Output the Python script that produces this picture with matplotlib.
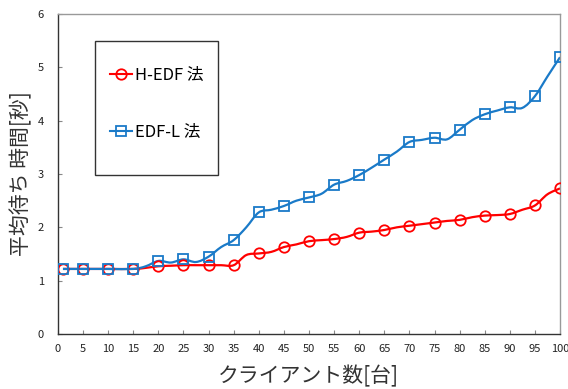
import matplotlib
matplotlib.use("Agg")
import matplotlib.pyplot as plt
from matplotlib.path import Path
from matplotlib.patches import PathPatch, Rectangle
from matplotlib.lines import Line2D
import numpy as np

plt.rcParams['font.family'] = ['Noto Sans CJK JP', 'DejaVu Sans']

# marker positions (clients)
x_mark = [1, 5, 10, 15, 20, 25, 30, 35, 40, 45, 50, 55, 60, 65, 70, 75, 80, 85, 90, 95, 100]
hedf_mark = [1.22, 1.22, 1.22, 1.22, 1.27, 1.29, 1.29, 1.29, 1.51, 1.63, 1.74, 1.78, 1.90, 1.95,
             2.03, 2.09, 2.14, 2.22, 2.25, 2.41, 2.73]
edfl_mark = [1.22, 1.22, 1.22, 1.22, 1.37, 1.40, 1.45, 1.76, 2.28, 2.40, 2.56, 2.80, 2.98, 3.27,
             3.60, 3.68, 3.83, 4.12, 4.25, 4.46, 5.19]

# in-between samples of the curves (no marker)
x_mid = [17.5, 22.5, 27.5, 32.5, 37.5, 42.5, 47.5, 52.5, 57.5, 62.5, 67.5, 72.5, 77.5, 82.5,
         87.5, 92.5, 97.5]
hedf_mid = [1.24, 1.28, 1.29, 1.29, 1.48, 1.54, 1.68, 1.76, 1.82, 1.92, 2.00, 2.06, 2.12, 2.19,
            2.23, 2.33, 2.62]
edfl_mid = [1.27, 1.34, 1.35, 1.63, 2.00, 2.33, 2.50, 2.63, 2.87, 3.12, 3.42, 3.64, 3.65, 4.01,
            4.19, 4.24, 4.83]

x_ticks = [0, 5, 10, 15, 20, 25, 30, 35, 40, 45, 50, 55, 60, 65, 70, 75, 80, 85, 90, 95, 100]

RED = '#ff0000'
BLUE = '#1a7ac8'


def smooth_path(xs, ys):
    """Catmull-Rom style bezier through the points (Excel smoothed line)"""
    pts = np.column_stack([xs, ys])
    n = len(pts)
    verts = [pts[0]]
    codes = [Path.MOVETO]
    for i in range(n - 1):
        p0 = pts[i - 1] if i > 0 else pts[i]
        p1 = pts[i]
        p2 = pts[i + 1]
        p3 = pts[i + 2] if i + 2 < n else pts[i + 1]
        c1 = p1 + (p2 - p0) / 6.0
        c2 = p2 - (p3 - p1) / 6.0
        verts += [c1, c2, p2]
        codes += [Path.CURVE4] * 3
    return Path(verts, codes)


def merged(xm, ym, xi, yi):
    d = sorted(zip(list(xm) + list(xi), list(ym) + list(yi)))
    return [a for a, b in d], [b for a, b in d]


fig = plt.figure(figsize=(5.68, 3.89), dpi=100)
ax = fig.add_axes([0.102, 0.1414, 0.884, 0.8226])

for xm, ym, xi, yi, col, mk in [(x_mark, hedf_mark, x_mid, hedf_mid, RED, 'o'),
                                (x_mark, edfl_mark, x_mid, edfl_mid, BLUE, 's')]:
    xs, ys = merged(xm, ym, xi, yi)
    ax.add_patch(PathPatch(smooth_path(xs, ys), facecolor='none', edgecolor=col, lw=1.6,
                           transform=ax.transData, zorder=2))
    ax.plot(xm, ym, linestyle='none', marker=mk, markersize=7.5, markerfacecolor='none',
            markeredgecolor=col, markeredgewidth=1.3, zorder=3)

ax.set_xlim(0, 100)
ax.set_ylim(0, 6)
ax.set_xticks(x_ticks)
ax.set_yticks(range(0, 7))
ax.tick_params(direction='in', length=3, width=0.8, color='#888888', labelsize=8,
               labelcolor='#222222')
ax.tick_params(axis='x', pad=7)
ax.tick_params(axis='y', pad=10)
ax.spines['left'].set_color('#333333')
ax.spines['bottom'].set_color('#333333')
ax.spines['top'].set_color('#999999')
ax.spines['right'].set_color('#999999')
for s in ax.spines.values():
    s.set_linewidth(1.0)

ax.set_xlabel('クライアント数[台]', fontsize=15, color='#333333', labelpad=8)
ax.set_ylabel('平均待ち 時間[秒]', fontsize=15, color='#333333', labelpad=4)

# legend with square frame
ax.add_patch(Rectangle((0.0737, 0.497), 0.245, 0.42, transform=ax.transAxes, facecolor='white',
                       edgecolor='#333333', lw=1.0, zorder=4))
handles = [Line2D([], [], color=RED, lw=1.5, marker='o', markersize=7.5, markerfacecolor='none',
                  markeredgewidth=1.3),
           Line2D([], [], color=BLUE, lw=1.5, marker='s', markersize=7.5, markerfacecolor='none',
                  markeredgewidth=1.3)]
leg = ax.legend(handles, ['H-EDF 法', 'EDF-L 法'], loc='upper left', bbox_to_anchor=(0.088, 0.86),
                frameon=False, fontsize=12, handlelength=1.3, handletextpad=0.2, labelspacing=2.4,
                borderpad=0)
leg.set_zorder(5)

fig.savefig('out.png', dpi=100)
